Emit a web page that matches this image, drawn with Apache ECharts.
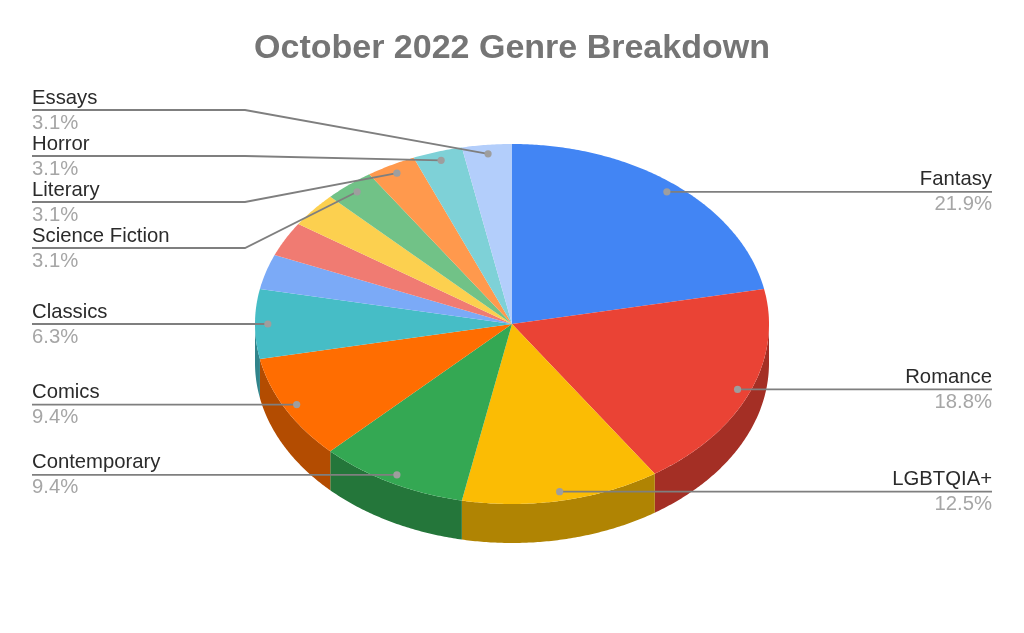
<!DOCTYPE html>
<html>
<head>
<meta charset="utf-8">
<style>html,body{margin:0;padding:0;background:#fff}#c{width:1024px;height:633px}</style>
<script src="https://cdn.jsdelivr.net/npm/echarts@6/dist/echarts.min.js"></script>
</head>
<body>
<div id="c"></div>
<script>
const titleText = 'October 2022 Genre Breakdown';
const categories = ['Fantasy','Romance','LGBTQIA+','Contemporary','Comics','Classics','','','','Science Fiction','Literary','Horror','Essays'];
const values = [21.875,18.75,12.5,9.375,9.375,6.25,3.125,3.125,3.125,3.125,3.125,3.125,3.125];
const colors = ['#4285f4','#ea4335','#fbbc04','#34a853','#ff6d01','#46bdc6','#7baaf7','#f07b72','#fcd04f','#71c287','#ff994d','#7ed1d7','#b3cefb'];

const PIE = {cx:512, cy:324, rx:257, ry:180, depth:39, anchor:0.95, shade:0.7};
const LABELS = {left:32, right:992, elbowX:245, elbowY:{'Essays':110,'Horror':156,'Literary':202,'Science Fiction':248}};
const LABEL_FONT = '20.3px "Liberation Sans", Arial, sans-serif';

const total = values.reduce((a,b)=>a+b,0);
const starts = [];
values.reduce((acc,v,i)=>{starts[i]=acc;return acc+v;},0);
const deg = v => v/total*360;
function pt(a, dy){
  const r = a*Math.PI/180;
  return [PIE.cx+PIE.rx*Math.sin(r), PIE.cy-PIE.ry*Math.cos(r)+(dy||0)];
}
function arc(a0,a1,dy){
  const n = Math.max(2,Math.ceil((a1-a0)/0.5)), out=[];
  for(let i=0;i<=n;i++) out.push(pt(a0+(a1-a0)*i/n,dy));
  return out;
}
function darken(hex,f){
  const n=parseInt(hex.slice(1),16);
  return 'rgb('+[(n>>16)&255,(n>>8)&255,n&255].map(c=>Math.round(c*f)).join(',')+')';
}
function sliceItem(params, api){
  const i = params.dataIndex;
  const a0 = deg(starts[i]), a1 = a0+deg(api.value(0));
  const kids = [];
  const w0 = Math.max(a0,90), w1 = Math.min(a1,270);
  if(w1>w0){
    kids.push({type:'polygon',shape:{points:arc(w0,w1,0).concat(arc(w0,w1,PIE.depth).reverse())},
      style:{fill:darken(colors[i],PIE.shade)}});
  }
  kids.push({type:'polygon',shape:{points:[[PIE.cx,PIE.cy]].concat(arc(a0,a1,0))},style:{fill:colors[i]}});
  return {type:'group',children:kids};
}
function labelItem(params, api){
  const i = params.dataIndex, name = categories[i];
  if(!name) return null;
  const v = api.value(0);
  const mid = deg(starts[i])+deg(v)/2, r = mid*Math.PI/180;
  const ax = PIE.cx+PIE.rx*PIE.anchor*Math.sin(r), ay = PIE.cy-PIE.ry*PIE.anchor*Math.cos(r);
  const isRight = ax>PIE.cx;
  const ex = isRight?LABELS.right:LABELS.left;
  const hasElbow = LABELS.elbowY[name]!==undefined;
  const ly = hasElbow?LABELS.elbowY[name]:ay;
  const pts = hasElbow?[[ex,ly],[LABELS.elbowX,ly],[ax,ay]]:[[ex,ly],[ax,ly]];
  const align = isRight?'right':'left';
  return {type:'group',children:[
    {type:'polyline',shape:{points:pts},style:{stroke:'#7f7f7f',lineWidth:1.8,fill:'none'}},
    {type:'circle',shape:{cx:ax,cy:ay,r:3.6},style:{fill:'#9e9e9e'}},
    {type:'text',style:{text:name,x:ex,y:ly-2,textAlign:align,textVerticalAlign:'bottom',fill:'#2b2b2b',font:LABEL_FONT}},
    {type:'text',style:{text:(Math.round(v*10)/10).toFixed(1)+'%',x:ex,y:ly+3,textAlign:align,textVerticalAlign:'top',fill:'#a6a6a6',font:LABEL_FONT}}
  ]};
}
const chart = echarts.init(document.getElementById('c'),null,{renderer:'canvas',width:1024,height:633});
chart.setOption({
  animation:false,
  backgroundColor:'#ffffff',
  title:{text:titleText,left:'center',top:27,textStyle:{fontFamily:'"Liberation Sans", Arial, sans-serif',fontWeight:'bold',fontSize:34,color:'#757575'}},
  series:[
    {type:'custom',coordinateSystem:'none',silent:true,renderItem:sliceItem,data:values.map(v=>[v])},
    {type:'custom',coordinateSystem:'none',silent:true,z:5,renderItem:labelItem,data:values.map(v=>[v])}
  ]
});
</script>
</body>
</html>
